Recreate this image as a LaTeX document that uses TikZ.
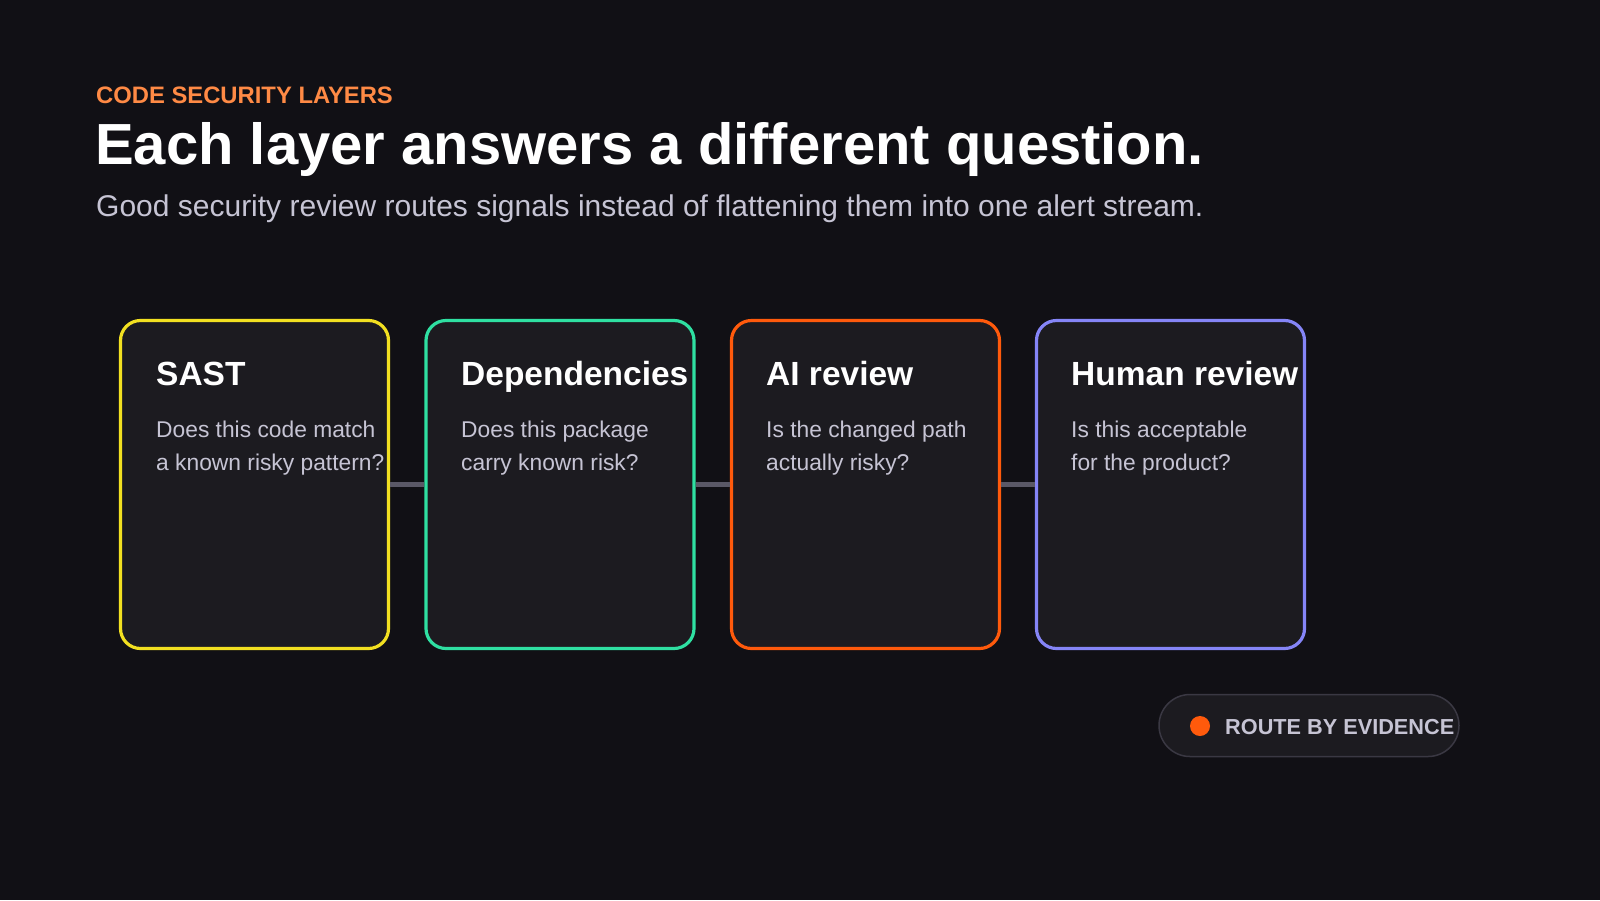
\documentclass[tikz,border=0pt]{standalone}
\usepackage{fontspec}
\setmainfont{Liberation Sans}
\definecolor{bgc}{HTML}{111015}
\definecolor{cardfill}{HTML}{1C1B20}
\definecolor{cyel}{HTML}{F2E021}
\definecolor{cgrn}{HTML}{2FE0A2}
\definecolor{corg}{HTML}{FF5A0C}
\definecolor{cpur}{HTML}{8585F7}
\definecolor{hdrorg}{HTML}{FF8A45}
\definecolor{subgrey}{HTML}{C6C4D4}
\definecolor{connc}{HTML}{5A5866}
\definecolor{pillborder}{HTML}{3A3843}
\tikzset{
  card/.style={draw, line width=3.2pt, fill=cardfill, rounded corners=20pt,
    minimum width=268pt, minimum height=328pt, inner sep=0pt},
  cardtitle/.style={anchor=base west, inner sep=0pt, text=white,
    font=\fontsize{33.5}{40}\selectfont\bfseries},
  cardbody/.style={anchor=base west, inner sep=0pt, text=subgrey,
    font=\fontsize{22.8}{33}\selectfont},
  conn/.style={draw=connc, line width=4.5pt},
}
\begin{document}
\begin{tikzpicture}[x=1pt,y=-1pt]
\fill[bgc] (0,0) rectangle (1600,900);
\useasboundingbox (0,0) rectangle (1600,900);
% header
\node[anchor=base west, inner sep=0pt, text=hdrorg, font=\fontsize{23.8}{28}\selectfont\bfseries] (kicker) at (96,103) {CODE SECURITY LAYERS};
\node[anchor=base west, inner sep=0pt, text=white, font=\fontsize{58}{66}\selectfont\bfseries] (title) at (95,164) {Each layer answers a different question.};
\node[anchor=base west, inner sep=0pt, text=subgrey, font=\fontsize{30}{34}\selectfont] (subtitle) at (96,216) {Good security review routes signals instead of flattening them into one alert stream.};
% cards
\node[card, draw=cyel] (b1) at (254.5,484.5) {};
\node[card, draw=cgrn] (b2) at (560,484.5) {};
\node[card, draw=corg] (b3) at (865.5,484.5) {};
\node[card, draw=cpur] (b4) at (1170.5,484.5) {};
% connectors
\draw[conn] (b1.east) -- (b2.west);
\draw[conn] (b2.east) -- (b3.west);
\draw[conn] (b3.east) -- (b4.west);
% card texts
\node[cardtitle] (t1) at (156,385) {SAST};
\node[cardbody] (d1a) at (156,437) {Does this code match};
\node[cardbody] (d1b) at (156,470) {a known risky pattern?};
\node[cardtitle] (t2) at (461,385) {Dependencies};
\node[cardbody] (d2a) at (461,437) {Does this package};
\node[cardbody] (d2b) at (461,470) {carry known risk?};
\node[cardtitle] (t3) at (766,385) {AI review};
\node[cardbody] (d3a) at (766,437) {Is the changed path};
\node[cardbody] (d3b) at (766,470) {actually risky?};
\node[cardtitle] (t4) at (1071,385) {Human review};
\node[cardbody] (d4a) at (1071,437) {Is this acceptable};
\node[cardbody] (d4b) at (1071,470) {for the product?};
% pill
\node[draw=pillborder, line width=1.5pt, fill=cardfill, rounded corners=31pt,
  minimum width=300pt, minimum height=62pt, inner sep=0pt] (pill) at (1309,725.5) {};
\node[circle, fill=corg, minimum size=20pt, inner sep=0pt] (dot) at (1200,726) {};
\node[anchor=base west, inner sep=0pt, text=subgrey, font=\fontsize{21.7}{26}\selectfont\bfseries] (pilltext) at (1225,734) {ROUTE BY EVIDENCE};
\end{tikzpicture}
\end{document}
